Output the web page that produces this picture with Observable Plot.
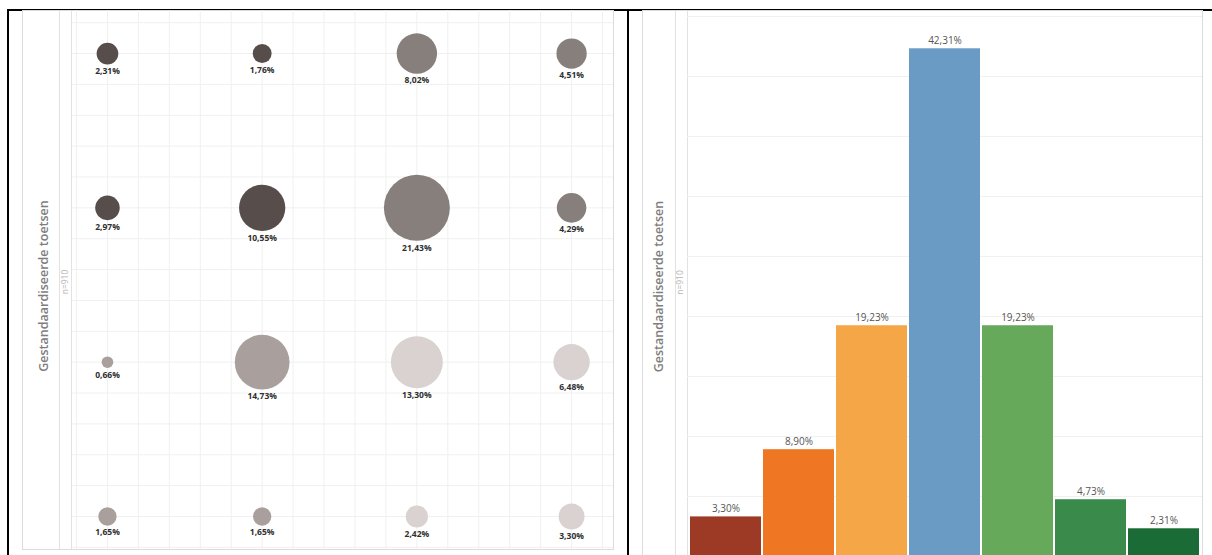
<!DOCTYPE html>
<html>
<head>
<meta charset="utf-8">
<script src="https://cdn.jsdelivr.net/npm/d3@7"></script>
<script src="https://cdn.jsdelivr.net/npm/@observablehq/plot@0.6"></script>
<style>
  html, body { margin: 0; padding: 0; background: #fff; width: 1212px; height: 555px; overflow: hidden; }
  #page { position: relative; width: 1212px; height: 555px; overflow: hidden; font-family: "Open Sans", sans-serif; }
  .black { position: absolute; background: #000; }
  .box { position: absolute; border: 1px solid #dcdcdc; box-sizing: border-box; }
  .sep { position: absolute; width: 1px; background: #e2e2e2; }
  .chart { position: absolute; }
  .chart svg { display: block; }
</style>
</head>
<body>
<div id="page">
  <!-- table borders -->
  <div class="black" style="left:7px; top:9px; width:1205px; height:1.5px;"></div>
  <div class="black" style="left:7px; top:9px; width:2px; height:546px;"></div>
  <div class="black" style="left:627px; top:9px; width:2px; height:546px;"></div>

  <!-- left panel frame -->
  <div class="box" style="left:22px; top:10px; width:592px; height:540px;"></div>
  <div class="sep" style="left:59px; top:11px; height:538px;"></div>
  <div class="sep" style="left:71px; top:11px; height:538px;"></div>
  <div class="chart" id="left" style="left:22px; top:10px;"></div>

  <!-- right panel frame -->
  <div class="box" style="left:642px; top:10px; width:561px; height:560px;"></div>
  <div class="sep" style="left:675px; top:11px; height:545px;"></div>
  <div class="sep" style="left:687px; top:11px; height:545px;"></div>
  <div class="chart" id="right" style="left:642px; top:10px;"></div>
</div>

<script>
// ---------- bubble grid: share per cell (%) ----------
const bubbleColumns = [1, 2, 3, 4];
const bubbleRows = [1, 2, 3, 4];
const row1Values = [2.31, 1.76, 8.02, 4.51];
const row2Values = [2.97, 10.55, 21.43, 4.29];
const row3Values = [0.66, 14.73, 13.30, 6.48];
const row4Values = [1.65, 1.65, 2.42, 3.30];
const row1Groups = ["A", "A", "B", "B"];
const row2Groups = ["A", "A", "B", "B"];
const row3Groups = ["C", "C", "D", "D"];
const row4Groups = ["C", "C", "D", "D"];
const bubbleGroups = ["A", "B", "C", "D"];
const bubbleColors = ["#574d4a", "#877f7c", "#a99f9d", "#d9d2d0"];

// ---------- bar chart: share per score (%) ----------
const barCategories = ["1", "2", "3", "4", "5", "6", "7"];
const barValues = [3.30, 8.90, 19.23, 42.31, 19.23, 4.73, 2.31];
const barColors = ["#9d3a26", "#ef7622", "#f5a748", "#6a9bc4", "#67a95a", "#3a8a4c", "#1a6b35"];

const axisTitle = "Gestandaardiseerde toetsen";
const sampleSize = "n=910";

const pct = v => v.toFixed(2).replace(".", ",") + "%";

const rowValues = [row1Values, row2Values, row3Values, row4Values];
const rowGroups = [row1Groups, row2Groups, row3Groups, row4Groups];
const bubbles = bubbleRows.flatMap((row, i) =>
  bubbleColumns.map((col, j) => ({row, col, value: rowValues[i][j], group: rowGroups[i][j]}))
);

const gridSteps = [0.8, 1.0, 1.2, 1.4, 1.6, 1.8, 2.0, 2.2, 2.4, 2.6, 2.8, 3.0, 3.2, 3.4, 3.6, 3.8, 4.0, 4.2];
const font = '"Open Sans", sans-serif';

// rotated panel title and sample size, set in the left margin of each panel
function sideTitles(dyTitle) {
  return [
    Plot.text([axisTitle], {text: d => d, frameAnchor: "left", textAnchor: "middle", rotate: -90,
      dx: -29, dy: dyTitle, fontSize: 12.5, fontWeight: 600, fill: "#7d7d7d", fontFamily: font}),
    Plot.text([sampleSize], {text: d => d, frameAnchor: "left", textAnchor: "middle", rotate: -90,
      dx: -7, dy: dyTitle - 4, fontSize: 8.5, fill: "#b5b5b5", fontFamily: font})
  ];
}

function bubbleChart(extraMarks) {
  return Plot.plot({
    width: 591,
    height: 539,
    marginLeft: 50, marginRight: 0, marginTop: 0, marginBottom: 0,
    style: {background: "transparent", fontFamily: font, overflow: "visible"},
    x: {domain: [0.774, 4.271], axis: null},
    y: {domain: [4.214, 0.721], axis: null},
    r: {domain: [0, 21.43], range: [0, 33]},
    color: {domain: bubbleGroups, range: bubbleColors},
    marks: [
      Plot.ruleX(gridSteps, {stroke: "#f0f0f0", strokeWidth: 1}),
      Plot.ruleY(gridSteps, {stroke: "#f0f0f0", strokeWidth: 1}),
      Plot.dot(bubbles, {x: "col", y: "row", r: "value", fill: "group", stroke: null}),
      ...sideTitles(6),
      ...extraMarks
    ]
  });
}

// first pass resolves the scales, second pass places each label below its bubble
const probe = bubbleChart([]);
const ys = probe.scale("y");
const rs = probe.scale("r");
const labelY = d => ys.invert(ys.apply(d.row) + rs.apply(d.value) + 7);
const left = bubbleChart([
  Plot.text(bubbles, {x: "col", y: labelY, text: d => pct(d.value),
    fontSize: 8.5, fontWeight: "bold", fill: "#2f2f2f", fontFamily: font})
]);
document.getElementById("left").appendChild(left);

const bars = barCategories.map((cat, i) => ({cat, value: barValues[i]}));
const right = Plot.plot({
  width: 560,
  height: 546,
  marginLeft: 45, marginRight: 0, marginTop: 0, marginBottom: 0,
  style: {background: "transparent", fontFamily: font, overflow: "visible"},
  x: {domain: barCategories, paddingInner: 0.025, paddingOuter: 0, axis: null},
  y: {domain: [0, 45.5], axis: null},
  color: {domain: barCategories, range: barColors},
  marks: [
    Plot.ruleY([0, 5, 10, 15, 20, 25, 30, 35, 40, 45], {stroke: "#f0f0f0", strokeWidth: 1}),
    Plot.barY(bars, {x: "cat", y: "value", fill: "cat"}),
    Plot.text(bars, {x: "cat", y: "value", text: d => pct(d.value), dy: -8,
      fontSize: 10, fill: "#555", fontFamily: font}),
    ...sideTitles(3)
  ]
});
document.getElementById("right").appendChild(right);
</script>
</body>
</html>
